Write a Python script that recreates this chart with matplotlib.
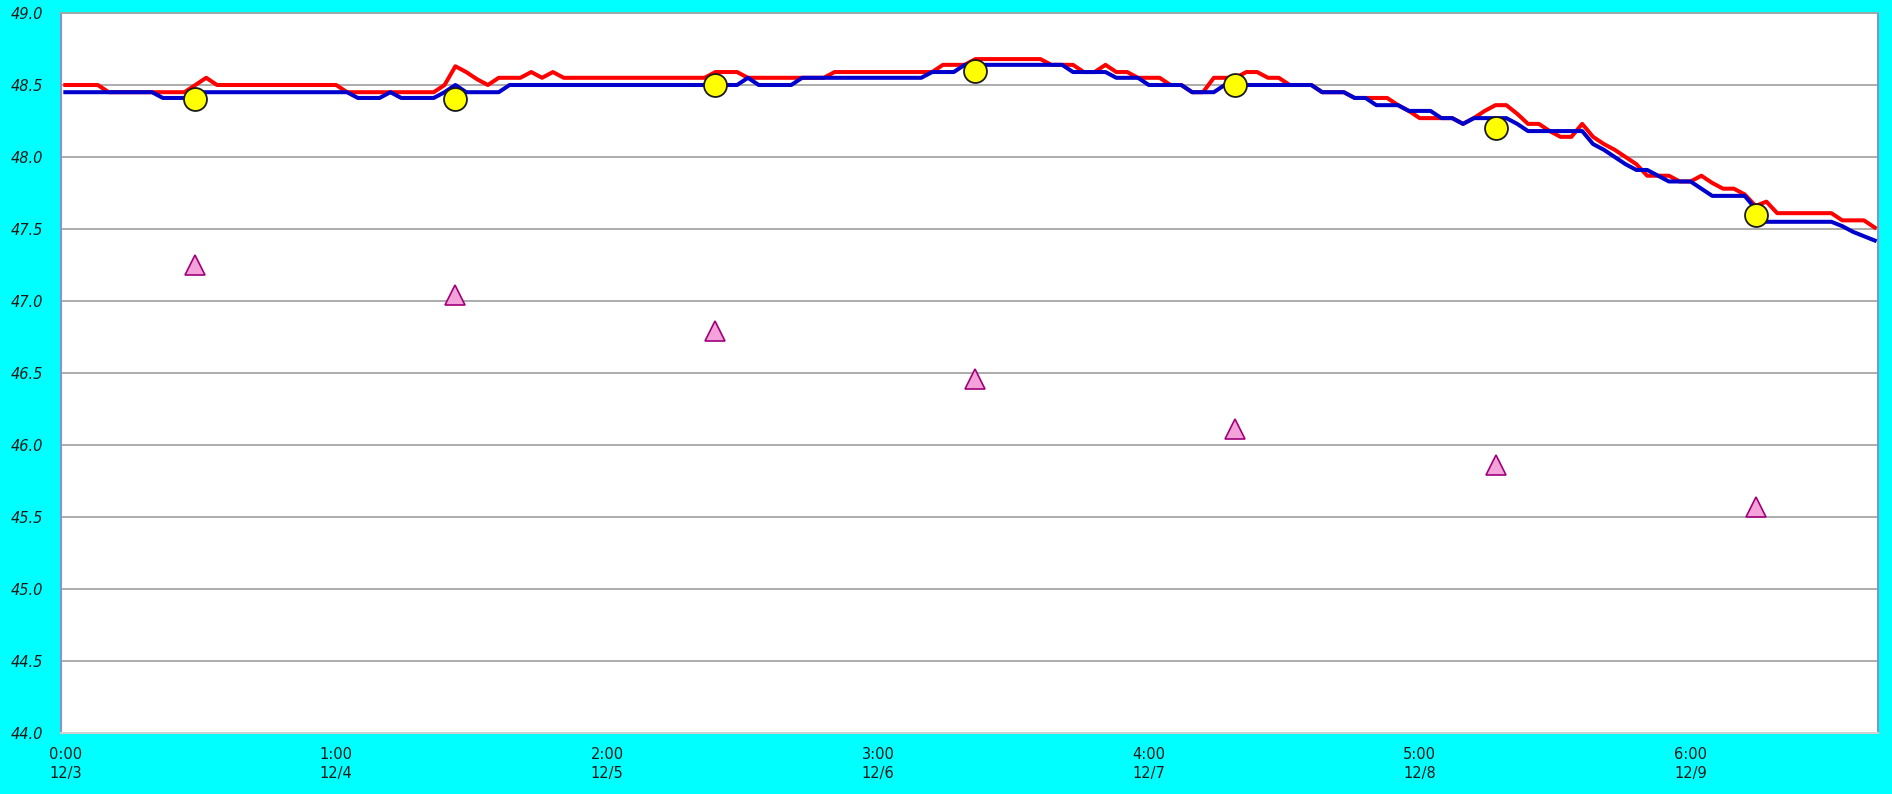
import matplotlib
matplotlib.use("Agg")
import matplotlib.pyplot as plt

# ---- data (hourly points) ----
hours = list(range(168))

red = [
    48.50, 48.50, 48.50, 48.50, 48.45, 48.45, 48.45, 48.45, 48.45, 48.45, 48.45, 48.45,
    48.50, 48.55, 48.50, 48.50, 48.50, 48.50, 48.50, 48.50, 48.50, 48.50, 48.50, 48.50,
    48.50, 48.50, 48.45, 48.45, 48.45, 48.45, 48.45, 48.45, 48.45, 48.45, 48.45, 48.50,
    48.63, 48.59, 48.54, 48.50, 48.55, 48.55, 48.55, 48.59, 48.55, 48.59, 48.55, 48.55,
    48.55, 48.55, 48.55, 48.55, 48.55, 48.55, 48.55, 48.55, 48.55, 48.55, 48.55, 48.55,
    48.59, 48.59, 48.59, 48.55, 48.55, 48.55, 48.55, 48.55, 48.55, 48.55, 48.55, 48.59,
    48.59, 48.59, 48.59, 48.59, 48.59, 48.59, 48.59, 48.59, 48.59, 48.64, 48.64, 48.64,
    48.68, 48.68, 48.68, 48.68, 48.68, 48.68, 48.68, 48.64, 48.64, 48.64, 48.59, 48.59,
    48.64, 48.59, 48.59, 48.55, 48.55, 48.55, 48.50, 48.50, 48.45, 48.45, 48.55, 48.55,
    48.55, 48.59, 48.59, 48.55, 48.55, 48.50, 48.50, 48.50, 48.45, 48.45, 48.45, 48.41,
    48.41, 48.41, 48.41, 48.36, 48.32, 48.27, 48.27, 48.27, 48.27, 48.23, 48.27, 48.32,
    48.36, 48.36, 48.30, 48.23, 48.23, 48.18, 48.14, 48.14, 48.23, 48.14, 48.09, 48.05,
    48.00, 47.95, 47.87, 47.87, 47.87, 47.83, 47.83, 47.87, 47.82, 47.78, 47.78, 47.74,
    47.66, 47.69, 47.61, 47.61, 47.61, 47.61, 47.61, 47.61, 47.56, 47.56, 47.56, 47.51,
]

blue = [
    48.45, 48.45, 48.45, 48.45, 48.45, 48.45, 48.45, 48.45, 48.45, 48.41, 48.41, 48.41,
    48.45, 48.45, 48.45, 48.45, 48.45, 48.45, 48.45, 48.45, 48.45, 48.45, 48.45, 48.45,
    48.45, 48.45, 48.45, 48.41, 48.41, 48.41, 48.45, 48.41, 48.41, 48.41, 48.41, 48.45,
    48.50, 48.45, 48.45, 48.45, 48.45, 48.50, 48.50, 48.50, 48.50, 48.50, 48.50, 48.50,
    48.50, 48.50, 48.50, 48.50, 48.50, 48.50, 48.50, 48.50, 48.50, 48.50, 48.50, 48.50,
    48.50, 48.50, 48.50, 48.55, 48.50, 48.50, 48.50, 48.50, 48.55, 48.55, 48.55, 48.55,
    48.55, 48.55, 48.55, 48.55, 48.55, 48.55, 48.55, 48.55, 48.59, 48.59, 48.59, 48.64,
    48.64, 48.64, 48.64, 48.64, 48.64, 48.64, 48.64, 48.64, 48.64, 48.59, 48.59, 48.59,
    48.59, 48.55, 48.55, 48.55, 48.50, 48.50, 48.50, 48.50, 48.45, 48.45, 48.45, 48.50,
    48.50, 48.50, 48.50, 48.50, 48.50, 48.50, 48.50, 48.50, 48.45, 48.45, 48.45, 48.41,
    48.41, 48.36, 48.36, 48.36, 48.32, 48.32, 48.32, 48.27, 48.27, 48.23, 48.27, 48.27,
    48.27, 48.27, 48.23, 48.18, 48.18, 48.18, 48.18, 48.18, 48.18, 48.09, 48.05, 48.00,
    47.95, 47.91, 47.91, 47.87, 47.83, 47.83, 47.83, 47.78, 47.73, 47.73, 47.73, 47.73,
    47.64, 47.55, 47.55, 47.55, 47.55, 47.55, 47.55, 47.55, 47.52, 47.48, 47.45, 47.42,
]

marker_hours = [12, 36, 60, 84, 108, 132, 156]
circle_vals = [48.40, 48.40, 48.50, 48.60, 48.50, 48.20, 47.60]
triangle_vals = [47.25, 47.04, 46.79, 46.46, 46.11, 45.86, 45.57]

tick_hours = [0, 25, 50, 75, 100, 125, 150]
tick_labels = ["0:00\n12/3", "1:00\n12/4", "2:00\n12/5", "3:00\n12/6",
               "4:00\n12/7", "5:00\n12/8", "6:00\n12/9"]
y_ticks = [44.0, 44.5, 45.0, 45.5, 46.0, 46.5, 47.0, 47.5, 48.0, 48.5, 49.0]

# ---- figure ----
W, H = 1892, 794
fig = plt.figure(figsize=(W / 100, H / 100), dpi=100, facecolor="#00FFFF")
left, right, top, bottom = 61, 1878, 13, 733
ax = fig.add_axes([left / W, 1 - bottom / H, (right - left) / W, (bottom - top) / H])
ax.set_facecolor("white")

ax.plot(hours, red, color="#FF0000", lw=2.9, zorder=3)
ax.plot(hours, blue, color="#0000CC", lw=2.9, zorder=4)
ax.plot(marker_hours, circle_vals, ls="none", marker="o", ms=16.5,
        mfc="#FFFF00", mec="#1A1A1A", mew=1.3, zorder=5)
ax.plot(marker_hours, triangle_vals, ls="none", marker="^", ms=14,
        mfc="#F3A3DA", mec="#A0007A", mew=1.2, zorder=5)

ax.set_xlim(-0.4, 167.3)
ax.set_ylim(44.0, 49.0)
ax.set_yticks(y_ticks)
ax.set_yticklabels([f"{v:.1f}" for v in y_ticks], fontstyle="italic",
                   fontsize=10.5, color="#1A1A1A")
ax.set_xticks(tick_hours)
ax.set_xticklabels(tick_labels, fontsize=10.5, color="#1A1A1A", linespacing=1.35)
ax.tick_params(axis="y", length=0, pad=13)
ax.tick_params(axis="x", length=0, pad=10)

ax.yaxis.grid(True, color="#A6A6A6", lw=1.3)
ax.xaxis.grid(False)
ax.set_axisbelow(True)

for side in ("left", "right"):
    ax.spines[side].set_color("#8496C8")
    ax.spines[side].set_linewidth(1.5)
ax.spines["top"].set_color("#A6A6A6")
ax.spines["top"].set_linewidth(1.3)
ax.spines["bottom"].set_color("#D0D0D0")
ax.spines["bottom"].set_linewidth(1.5)

fig.savefig("out.png", dpi=100, facecolor=fig.get_facecolor())
